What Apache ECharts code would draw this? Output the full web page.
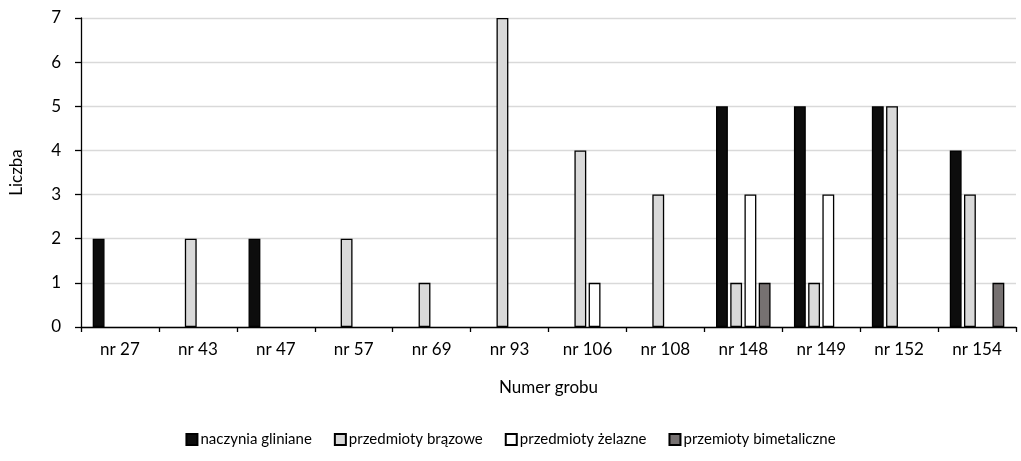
<!DOCTYPE html>
<html>
<head>
<meta charset="utf-8">
<script src="https://cdn.jsdelivr.net/npm/echarts@6/dist/echarts.min.js"></script>
<style>html,body{margin:0;padding:0;background:#fff}#c{width:1021px;height:461px}</style>
</head>
<body>
<div id="c"></div>
<script>
const categories = ['nr 27','nr 43','nr 47','nr 57','nr 69','nr 93','nr 106','nr 108','nr 148','nr 149','nr 152','nr 154'];
const naczynia =   [2,0,2,0,0,0,0,0,5,5,5,4];
const brazowe =    [0,2,0,2,1,7,4,3,1,1,5,3];
const zelazne =    [0,0,0,0,0,0,1,0,3,3,0,0];
const bimetal =    [0,0,0,0,0,0,0,0,1,0,0,1];
const seriesNames = ['naczynia gliniane','przedmioty brązowe','przedmioty żelazne','przemioty bimetaliczne'];
const yTicks = [0,1,2,3,4,5,6,7];

const font = 'Lato, "Open Sans", sans-serif';
const colors = ['#0d0d0d','#d9d9d9','#ffffff','#767171'];
const dataSets = [naczynia, brazowe, zelazne, bimetal];

const chart = echarts.init(document.getElementById('c'), null, {renderer:'canvas'});
chart.setOption({
  animation: false,
  textStyle: {fontFamily: font, color: '#000'},
  grid: {left: 76, right: 5, top: 18, bottom: 134, containLabel: false},
  legend: {
    top: 427, left: 'center', itemGap: 22, itemWidth: 11, itemHeight: 11, icon: 'rect',
    textStyle: {fontFamily: font, fontSize: 15, color: '#000', padding: [0,0,0,-2]},
    data: seriesNames
  },
  xAxis: {
    type: 'category', data: categories,
    name: 'Numer grobu', nameLocation: 'middle', nameGap: 52,
    nameTextStyle: {fontFamily: font, fontSize: 17, color: '#000'},
    axisLine: {lineStyle: {color: '#000', width: 1.3}},
    axisTick: {show: true, length: 5, lineStyle: {color: '#000', width: 1.3}},
    axisLabel: {fontFamily: font, fontSize: 17, color: '#000', margin: 14}
  },
  yAxis: {
    type: 'value', min: yTicks[0], max: yTicks[yTicks.length-1], interval: 1,
    name: 'Liczba', nameLocation: 'middle', nameGap: 56, nameRotate: 90,
    nameTextStyle: {fontFamily: font, fontSize: 17, color: '#000'},
    axisLine: {show: true, lineStyle: {color: '#000', width: 1.3}},
    axisTick: {show: true, length: 6, lineStyle: {color: '#000', width: 1.3}},
    axisLabel: {fontFamily: font, fontSize: 17, color: '#000', margin: 20},
    splitLine: {lineStyle: {color: '#d9d9d9', width: 1.3}}
  },
  series: seriesNames.map((n, i) => ({
    name: n, type: 'bar', data: dataSets[i].map(v => v === 0 ? '-' : v),
    barCategoryGap: '30%', barGap: '20%',
    itemStyle: {color: colors[i], borderColor: '#000', borderWidth: 1.3}
  }))
});
</script>
</body>
</html>
